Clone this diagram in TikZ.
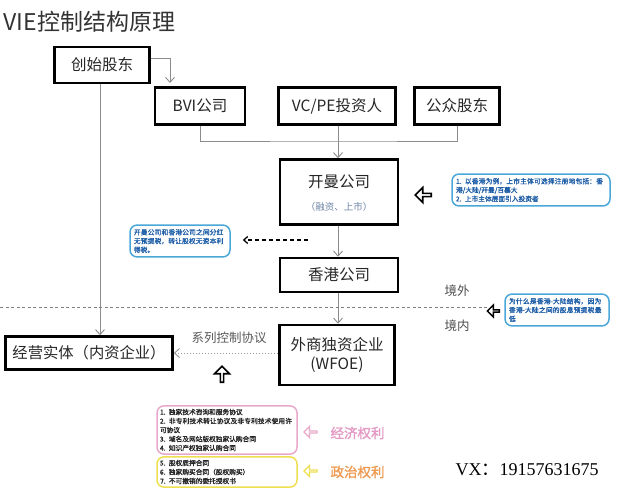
\documentclass[tikz,border=0pt]{standalone}
\usepackage{fontspec}
\setmainfont{Liberation Serif}
\newfontfamily\cjk{Noto Sans CJK SC}
\newfontfamily\cjkb[FakeBold=1.5]{Noto Sans CJK SC}
\XeTeXlinebreaklocale "zh"
\XeTeXlinebreakskip = 0pt plus 1pt
\usetikzlibrary{shapes.arrows,arrows.meta}
\definecolor{bluebd}{HTML}{4AA8D8}
\definecolor{bluetx}{HTML}{1F5FA8}
\definecolor{pinkbd}{HTML}{E8A8CC}
\definecolor{yelbd}{HTML}{EEE050}
\definecolor{pinktx}{HTML}{E49AC4}
\definecolor{orgtx}{HTML}{EE9A50}
\definecolor{lbl}{HTML}{6F86A8}
\begin{document}
\begin{tikzpicture}[x=1pt,y=-1pt,
  box/.style={draw=black,line width=2.6pt,minimum width=#1,align=center,inner sep=2pt,font=\cjk\fontsize{15.5}{19}\selectfont,text=black!85},
  box/.default=90pt,
  arr/.style={draw=black!45,line width=0.9pt,-{Straight Barb[length=5pt,width=9pt]}},
  note/.style={draw=bluebd,line width=1.5pt,rounded corners=7pt,text=bluetx,align=left,inner sep=4pt,font=\cjkb\fontsize{6.7}{8.8}\selectfont},
  legal/.style={line width=1.5pt,rounded corners=7pt,text=black!85,align=left,inner sep=3pt,text width=#1,font=\cjkb\fontsize{6.7}{9}\selectfont},
  hollow/.style={single arrow,draw=#1,line width=1.6pt,fill=white,minimum height=16pt,minimum width=15pt,single arrow head extend=3pt,inner sep=0pt,single arrow tip angle=90},
  hollow/.default=black
]
\useasboundingbox (0,0) rectangle (628,500);
\fill[white] (0,0) rectangle (628,500);

\node[anchor=west,text=black!80,font=\cjk\fontsize{23}{26}\selectfont] (title) at (0,22) {VIE控制结构原理};

\node[box=95pt,minimum height=36pt] (found) at (102,65) {创始股东};
\node[box=90pt,minimum height=37pt] (bvi) at (200,106) {BVI公司};
\node[box=117pt,minimum height=37pt] (vcpe) at (337,106) {VC/PE投资人};
\node[box=85pt,minimum height=37pt] (pub) at (457,106) {公众股东};

\node[box=118pt,minimum height=65pt] (cay) at (339,192) {};
\node[font=\cjk\fontsize{15.5}{19}\selectfont,text=black!85] (cayname) at (339,182) {开曼公司};
\node[font=\cjk\fontsize{9.5}{11}\selectfont,text=lbl] (caysub) at (339,207) {（融资、上市）};

\node[box=118pt,minimum height=34pt] (hk) at (339,275) {香港公司};
\node[box=115pt,minimum height=60pt] (wfoe) at (337,355) {外商独资企业\\(WFOE)};
\node[box=167pt,minimum height=33pt,font=\cjk\fontsize{15.3}{18}\selectfont] (op) at (89,353) {经营实体（内资企业）};

% connectors top
\coordinate (fturn) at (170,58);
\coordinate (bvitarget) at (170,83);
\draw[arr] (found.east|-fturn) -- (fturn) -- (bvitarget);
\coordinate (fdown) at (100,84);
\draw[arr] (fdown) -- (op.north-|fdown);

\coordinate (j) at (338,141);
\draw[draw=black!45,line width=0.9pt] (bvi.south) |- (j) -| (pub.south);
\draw[draw=black!45,line width=0.9pt] (vcpe.south-|j) -- (j);
\draw[arr] (j) -- (cay.north-|j);
\draw[arr] (cay.south-|j) -- (hk.north-|j);
\draw[arr] (hk.south-|j) -- (wfoe.north-|j);

% border line
\coordinate (bl) at (0,307);
\coordinate (br) at (488,307);
\draw[draw=black!50,line width=0.7pt,dash pattern=on 3pt off 2.5pt] (bl) -- (br);
\node[font=\cjk\fontsize{12.5}{14}\selectfont,text=black!70] (out) at (457,291) {境外};
\node[font=\cjk\fontsize{12.5}{14}\selectfont,text=black!70] (in) at (457,326) {境内};

% notes
\node[note,text width=150pt] (n1) at (531,190) {1. 以香港为例，上市主体可选择注册地包括：香港/大陆/开曼/百慕大\\2. 上市主体层面引入投资者};
\node[hollow,shape border rotate=180] (h1) at (424,195) {};

\node[note,text width=92pt] (n2) at (180,241) {开曼公司和香港公司之间分红无预提税，转让股权无资本利得税。};
\coordinate (dstart) at (308,240);
\draw[line width=1.3pt,dash pattern=on 4pt off 3pt,-{Straight Barb[length=4pt,width=7pt]},shorten >=12pt] (dstart) -- (n2.east|-dstart);

\node[note,text width=96pt] (n3) at (557,310) {为什么是香港-大陆结构，因为香港-大陆之间的股息预提税最低};
\node[hollow,shape border rotate=180,minimum height=12pt,minimum width=12pt,line width=1.4pt] (h3) at (494,311) {};

% control agreements
\draw[draw=black!40,line width=1pt,dash pattern=on 1.5pt off 1.5pt,-{Straight Barb[length=5pt,width=9pt]}] (wfoe.west|-op.east) -- (op.east);
\node[font=\cjk\fontsize{12.5}{14}\selectfont,text=black!65] (ctl) at (229,338) {系列控制协议};
\node[hollow,shape border rotate=90] (h2) at (222,375) {};

% legal boxes
\node[legal=134pt,draw=pinkbd] (pink) at (227,430) {1. 独家技术咨询和服务协议\\2. 非专利技术转让协议及非专利技术使用许可协议\\3. 域名及网站版权独家认购合同\\4. 知识产权独家认购合同};
\node[legal=134pt,draw=yelbd] (yel) at (227,472) {5. 股权质押合同\\6. 独家购买合同（股权购买）\\7. 不可撤销的委托授权书};

\node[hollow=pinkbd,shape border rotate=180,minimum height=13pt,minimum width=11pt,line width=1.2pt] (hp) at (311,432) {};
\node[anchor=west,text=pinktx,font=\cjkb\fontsize{13.5}{15}\selectfont] (econ) at (327,433) {经济权利};
\node[hollow=yelbd,shape border rotate=180,minimum height=13pt,minimum width=11pt,line width=1.2pt] (hy) at (311,471) {};
\node[anchor=west,text=orgtx,font=\cjkb\fontsize{13.5}{15}\selectfont] (pol) at (327,472) {政治权利};

\node[anchor=west,font=\fontsize{18}{20}\selectfont,text=black] (vx) at (452,470) {VX{\cjk ：}19157631675};
\end{tikzpicture}
\end{document}
